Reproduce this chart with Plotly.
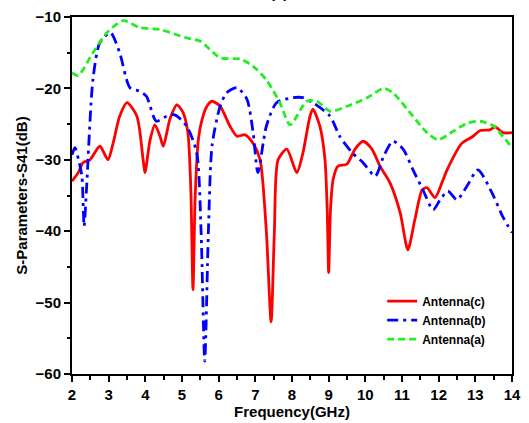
import plotly.graph_objects as go

# Frequency (GHz) and S41 (dB) samples for each antenna
freq_c = [2.0, 2.17, 2.3, 2.49, 2.76, 2.98, 3.12, 3.3, 3.5, 3.77, 3.94, 3.99, 4.13, 4.26, 4.4, 4.49,
          4.67, 4.86, 5.03, 5.16, 5.24, 5.3, 5.36, 5.45, 5.55, 5.68, 5.82, 6.04, 6.31, 6.5, 6.72, 6.94,
          7.13, 7.3, 7.43, 7.52, 7.62, 7.86, 8.13, 8.3, 8.49, 8.57, 8.76, 8.9, 8.96, 9.0, 9.05, 9.12,
          9.25, 9.5, 9.72, 9.94, 10.18, 10.4, 10.67, 10.95, 11.16, 11.35, 11.55, 11.68, 11.9, 12.12,
          12.23, 12.63, 12.94, 13.13, 13.4, 13.54, 13.75, 14.0]
s41_c = [-33.0, -31.8, -30.4, -30.0, -28.1, -30.0, -27.7, -23.9, -22.0, -23.9, -30.0, -31.8, -27.2,
         -25.1, -26.7, -28.1, -24.3, -22.3, -23.4, -26.2, -34.0, -48.2, -35.0, -27.0, -24.3, -22.5,
         -21.8, -22.5, -25.3, -26.7, -26.5, -27.7, -30.0, -40.0, -52.7, -40.0, -30.0, -28.5, -31.8,
         -29.0, -23.9, -22.9, -25.3, -30.0, -37.0, -45.8, -37.0, -32.8, -30.9, -30.6, -28.5, -27.4,
         -28.5, -30.9, -33.2, -37.4, -42.6, -38.4, -34.2, -33.9, -35.3, -32.8, -31.4, -27.7, -26.7,
         -25.9, -25.8, -25.4, -26.2, -26.2]

freq_b = [2.0, 2.08, 2.18, 2.27, 2.33, 2.4, 2.57, 2.76, 3.05, 3.3, 3.58, 3.85, 4.03, 4.3, 4.58, 4.8,
          5.13, 5.4, 5.52, 5.62, 5.72, 5.82, 6.04, 6.22, 6.5, 6.77, 6.94, 7.07, 7.3, 7.58, 8.03, 8.3,
          8.57, 9.04, 9.3, 9.64, 9.94, 10.27, 10.5, 10.75, 11.03, 11.3, 11.57, 11.85, 12.04, 12.25,
          12.5, 12.77, 13.07, 13.48, 13.75, 14.0]
s41_b = [-29.3, -28.3, -30.0, -32.3, -39.3, -33.7, -18.8, -13.6, -12.2, -15.0, -19.9, -20.4, -21.1,
         -24.6, -23.9, -23.7, -25.3, -29.0, -40.0, -58.2, -40.0, -28.0, -22.5, -20.6, -19.9, -21.5,
         -26.2, -31.8, -25.3, -22.0, -21.3, -21.3, -22.0, -23.9, -26.7, -29.0, -30.4, -32.3, -29.5,
         -27.4, -28.5, -31.4, -34.2, -37.0, -35.6, -34.4, -35.6, -33.7, -31.4, -34.9, -38.0, -40.2]

freq_a = [2.0, 2.17, 2.57, 2.95, 3.4, 3.85, 4.4, 5.1, 5.5, 6.04, 6.6, 6.94, 7.3, 7.67, 7.95, 8.4,
          8.68, 9.04, 9.5, 10.05, 10.5, 10.75, 11.3, 11.68, 11.98, 12.4, 12.77, 13.13, 13.48, 13.75,
          14.0]
s41_a = [-17.8, -18.2, -15.0, -12.2, -10.5, -11.5, -11.75, -12.9, -13.4, -15.7, -15.9, -16.9, -18.8,
         -22.0, -25.1, -21.8, -21.8, -23.2, -22.5, -21.3, -20.0, -20.6, -23.9, -26.2, -27.2, -26.0,
         -24.9, -24.6, -25.2, -26.7, -28.3]

x_ticks = list(range(2, 15))
y_ticks = [-60, -50, -40, -30, -20, -10]

series = [
    ("Antenna(c)", freq_c, s41_c, "#ff0000", "solid"),
    ("Antenna(b)", freq_b, s41_b, "#0000ff", "11px,5px,3px,5px"),
    ("Antenna(a)", freq_a, s41_a, "#22ee22", "7px,4px"),
]

fig = go.Figure()
for name, xs, ys, color, dash in series:
    fig.add_trace(go.Scatter(
        x=xs, y=ys, name=name, mode="lines",
        line=dict(color=color, width=2.8, dash=dash, shape="spline", smoothing=0.7),
    ))

axis_common = dict(
    showline=True, linecolor="black", linewidth=2, mirror=True,
    ticks="outside", ticklen=6, tickwidth=1.5, tickcolor="black",
    showgrid=False, zeroline=False, automargin=False,
    tickfont=dict(family="Liberation Sans", size=15, color="black", weight="bold"),
)

fig.update_layout(
    width=529, height=423,
    margin=dict(l=72, r=17, t=17, b=49, autoexpand=False),
    paper_bgcolor="white", plot_bgcolor="white",
    font=dict(family="Liberation Sans", color="black"),
    xaxis=dict(
        range=[2, 14], tickvals=x_ticks,
        minor=dict(dtick=0.5, ticklen=3.5, tickwidth=1.5, tickcolor="black", ticks="outside"),
        title=dict(text="Frequency(GHz)", standoff=1,
                   font=dict(family="Liberation Sans", size=15, color="black", weight="bold")),
        **axis_common,
    ),
    yaxis=dict(
        range=[-60, -10], tickvals=y_ticks,
        minor=dict(dtick=5, ticklen=3.5, tickwidth=1.5, tickcolor="black", ticks="outside"),
        title=dict(text="S-Parameters-S41(dB)", standoff=4,
                   font=dict(family="Liberation Sans", size=15, color="black", weight="bold")),
        **axis_common,
    ),
    legend=dict(
        x=0.705, y=0.245, xanchor="left", yanchor="top",
        bgcolor="rgba(0,0,0,0)", borderwidth=0,
        font=dict(family="Liberation Sans", size=12, color="black", weight="bold"),
        itemwidth=30, tracegroupgap=0,
    ),
    showlegend=True,
)

fig.add_annotation(
    text="(c)", xref="paper", yref="paper", x=0.47, y=1.04,
    xanchor="center", yanchor="bottom", showarrow=False,
    font=dict(family="Liberation Sans", size=15, color="black", weight="bold"),
)

fig.write_html("out.html")
